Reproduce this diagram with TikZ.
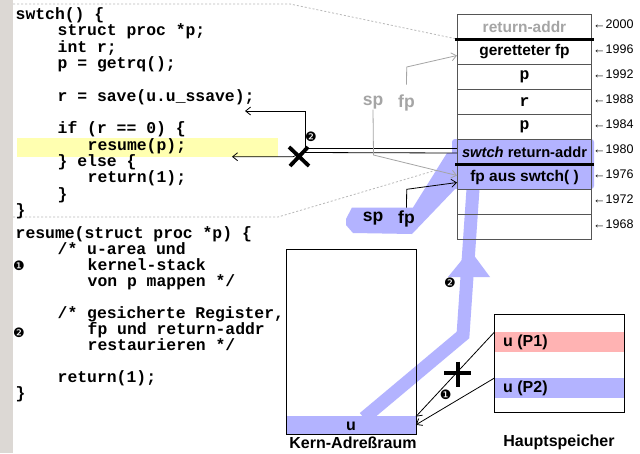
\documentclass[tikz,border=0pt]{standalone}
\usepackage{fontspec}
\setmainfont{Liberation Sans}
\setmonofont{Liberation Mono}
\newfontfamily\dingfont{DejaVu Sans}
\usetikzlibrary{arrows.meta}
\definecolor{lav}{RGB}{179,179,255}
\definecolor{pinkish}{RGB}{255,179,179}
\definecolor{barg}{RGB}{220,216,212}
\definecolor{hl}{RGB}{255,255,176}
\definecolor{stk}{RGB}{85,85,85}
\definecolor{gr}{RGB}{165,165,165}
\definecolor{dashgr}{RGB}{185,185,185}
\begin{document}
\begin{tikzpicture}[x=1pt,y=-1pt,
  code/.style={anchor=base west, inner sep=0pt, font=\ttfamily\bfseries\fontsize{16.4}{16}\selectfont},
  cell/.style={draw=stk, line width=1pt, minimum width=134pt, minimum height=25pt, inner sep=0pt, anchor=north west, font=\bfseries\fontsize{15.5}{15.5}\selectfont},
  monocell/.style={cell, font=\ttfamily\bfseries\fontsize{16.4}{16}\selectfont},
  addr/.style={anchor=west, inner sep=0pt, font=\fontsize{12.5}{13}\selectfont},
  lab/.style={inner sep=0pt, font=\bfseries\fontsize{16}{16}\selectfont},
  splab/.style={inner sep=0pt, font=\bfseries\fontsize{17.5}{17.5}\selectfont},
  num/.style={inner sep=0pt, font=\dingfont\fontsize{13}{13}\selectfont},
  tip/.style={-{Straight Barb[length=5pt,width=8pt]}},
  thin/.style={line width=0.8pt},
  dashout/.style={dashgr, line width=0.8pt, dash pattern=on 2pt off 2pt},
]
\useasboundingbox (0,0) rectangle (640,453);
\fill[white] (0,0) rectangle (640,453);
\fill[barg] (0,0) rectangle (12.5,453);

% highlight of resume(p)
\fill[hl] (17,138.3) rectangle (277.7,156.7);

% dashed outline of swtch frame
\draw[dashout] (13,4) -- (290,4) -- (457,39);
\draw[dashout] (13,217) -- (278,217) -- (457,164);

% lavender region around rows 6-7 and sp/fp blob
\fill[lav, rounded corners=3pt] (452,139) rectangle (594,189);
\fill[lav] (346,219) -- (352,207.5) -- (413,207.5) -- (447,153) -- (457,153) -- (457,187) -- (412,234) -- (353,233) -- (346,225) -- cycle;

% big lavender arrow (2)
\draw[lav, line width=13pt] (364,418) -- (463,335) -- (473,189);
\fill[lav] (448,277) -- (490,277) -- (470,250) -- cycle;

% stack
\node[cell, text=gr] (r1) at (457,14) {return-addr};
\node[cell] (r2) at (457,39) {geretteter fp};
\node[monocell] (r3) at (457,64) {p};
\node[monocell] (r4) at (457,89) {r};
\node[monocell] (r5) at (457,114) {p};
\node[cell, fill=lav, font=\bfseries\fontsize{14.7}{15}\selectfont] (r6) at (457,139) {\textit{swtch} return-addr};
\node[cell, fill=lav] (r7) at (457,164) {fp aus swtch( )};
\node[cell] (r8) at (457,189) {};
\node[cell] (r9) at (457,214) {};
\draw[line width=3pt] ([xshift=-2pt]r2.north west) -- ([xshift=2pt]r2.north east);
\draw[line width=3pt] ([xshift=-2pt]r7.north west) -- ([xshift=2pt]r7.north east);

% addresses
\node[addr] (a1) at (593,24) {←2000};
\node[addr] (a2) at (593,49) {←1996};
\node[addr] (a3) at (593,74) {←1992};
\node[addr] (a4) at (593,99) {←1988};
\node[addr] (a5) at (593,124) {←1984};
\node[addr] (a6) at (593,149) {←1980};
\node[addr] (a7) at (593,174) {←1976};
\node[addr] (a8) at (593,199) {←1972};
\node[addr] (a9) at (593,224) {←1968};

% code block swtch
\node[code] (c1) at (15.5,19.3) {swtch() \{};
\node[code] (c2) at (57.5,35.6) {struct proc *p;};
\node[code] (c3) at (57.5,52) {int r;};
\node[code] (c4) at (57.5,68.3) {p = getrq();};
\node[code] (c5) at (57.5,101) {r = save(u.u\_ssave);};
\node[code] (c6) at (57.5,133.6) {if (r == 0) \{};
\node[code] (c7) at (87.5,150) {resume(p);};
\node[code] (c8) at (57.5,166.3) {\} else \{};
\node[code] (c9) at (87.5,182.6) {return(1);};
\node[code] (c10) at (57.5,199) {\}};
\node[code] (c11) at (15.5,215.3) {\}};

% code block resume
\node[code] (d1) at (15.5,238.7) {resume(struct proc *p) \{};
\node[code] (d2) at (57.5,254.7) {/* u-area und};
\node[code] (d3) at (87.5,270.7) {kernel-stack};
\node[code] (d4) at (87.5,286.7) {von p mappen */};
\node[code] (d5) at (57.5,318.7) {/* gesicherte Register,};
\node[code] (d6) at (87.5,334.7) {fp und return-addr};
\node[code] (d7) at (87.5,350.7) {restaurieren */};
\node[code] (d8) at (57.5,382.7) {return(1);};
\node[code] (d9) at (15.5,398.7) {\}};
\node[num] (n1) at (19,266) {❶};
\node[num] (n2) at (19,332.5) {❷};

% return arrows from swtch return-addr
\coordinate (saveTip) at (245,111);
\coordinate (resTip) at (232,156.7);
\draw[thin, tip] ([yshift=3.5pt]r6.west) -| (305,111) -- (saveTip);
\draw[thin, tip] ([yshift=-1pt]r6.west) -- (303,152.5) -- (293,156.7) -- (resTip);
\draw[line width=3.8pt] (289,147) -- (309,166) (290,166) -- (308,147);
\node[num] (n3) at (311,136.5) {❷};

% gray sp fp (old)
\node[splab, text=gr] (gsp) at (373,103) {sp};
\node[splab, text=gr] (gfp) at (406.5,103) {fp};
\draw[gr, thin, tip] ([yshift=10pt]gfp.north) -- (406.7,67) -- ([yshift=-3.5pt]r2.west);
\draw[gr, thin, tip] (gsp.south) -- (373.5,155) -- ([yshift=1.5pt]r7.west);

% black sp fp (new)
\node[splab] (bsp) at (373,219) {sp};
\node[splab] (bfp) at (406.5,219) {fp};
\draw[thin, tip] ([yshift=3pt]bfp.north) -- (406.7,189.3) -- ([yshift=-5.5pt]r7.west);
\node[num] (n4) at (450,283) {❷};

% Kern-Adressraum
\node[fill=lav, anchor=south west, minimum width=129pt, minimum height=18pt, inner sep=0pt] (uband) at (286.5,434) {};
\node[lab] (ulab) at (351,426.5) {u};
\node[draw, line width=1pt, anchor=north west, minimum width=130pt, minimum height=185pt, inner sep=0pt] (kern) at (286,249) {};
\node[lab] (kernlab) at (353,443) {Kern-Adreßraum};

% Hauptspeicher
\node[fill=pinkish, anchor=north west, minimum width=129pt, minimum height=20pt, inner sep=0pt] (b1) at (494.5,332) {};
\node[fill=lav, anchor=north west, minimum width=129pt, minimum height=20pt, inner sep=0pt] (b2) at (494.5,378) {};
\node[draw, line width=1pt, anchor=north west, minimum width=130pt, minimum height=98pt, inner sep=0pt] (hs) at (494,314) {};
\node[lab, anchor=west] (p1) at (503,342) {u (P1)};
\node[lab, anchor=west] (p2) at (503,388) {u (P2)};
\node[lab] (hslab) at (559,442) {Hauptspeicher};

\draw[thin, tip] (b1.north west) -- ([yshift=-1pt]uband.north east);
\draw[thin, tip] (b2.north west) -- ([yshift=0pt]uband.east);
\draw[line width=3.8pt] (444,373.3) -- (471,373.3) (457.7,361.7) -- (457.7,387.3);
\node[num] (n5) at (445.7,395) {❶};
\end{tikzpicture}
\end{document}
